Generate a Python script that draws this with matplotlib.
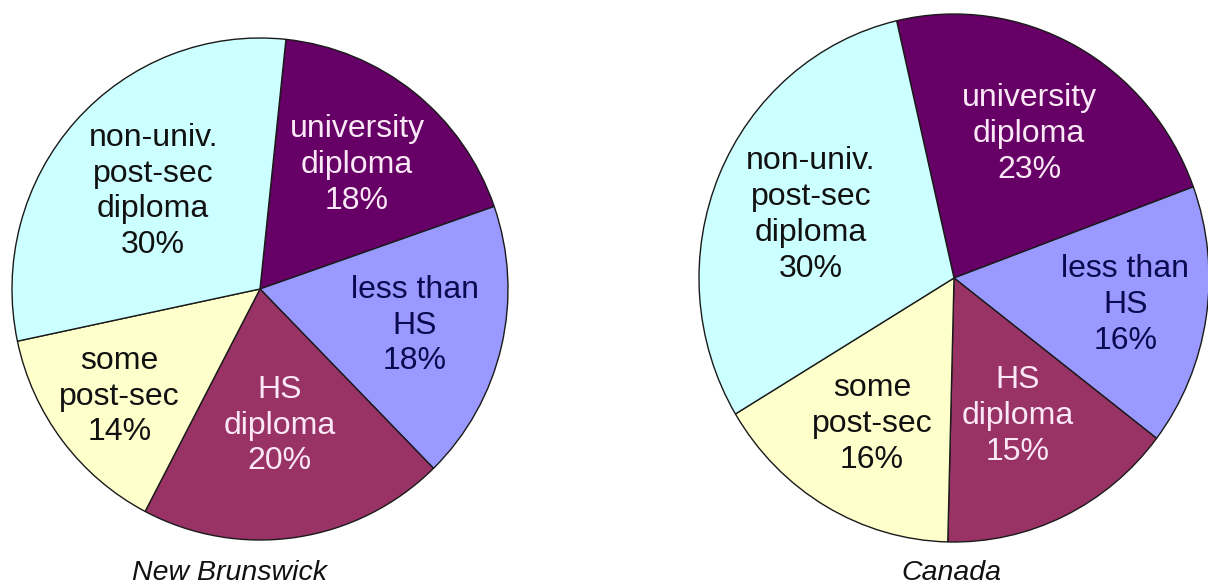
import matplotlib.pyplot as plt
import numpy as np

plt.rcParams['font.family'] = ['Liberation Sans', 'DejaVu Sans']

# Données
categories = ['university\ndiploma', 'less than\nHS', 'HS\ndiploma',
              'some\npost-sec', 'non-univ.\npost-sec\ndiploma']
nb_values = [18, 18, 20, 14, 30]
canada_values = [23, 16, 15, 16, 30]
titles = ['New Brunswick', 'Canada']

colors = ['#660066', '#9999FF', '#993366', '#FFFFCC', '#CCFFFF']
text_colors = ['#FBE8F6', '#0A0A50', '#FBE8F6', '#111111', '#111111']

fig = plt.figure(figsize=(12.08, 5.86), dpi=100)
W, H = 1208, 586


def draw_pie(box, values, start, label_r, title, title_x):
    """Dessine un camembert dans une boite en pixels (x0, y0_haut, x1, y1_bas)."""
    x0, y0, x1, y1 = box
    ax = fig.add_axes([x0 / W, 1 - y1 / H, (x1 - x0) / W, (y1 - y0) / H])
    wedges, _ = ax.pie(values, colors=colors, startangle=start, counterclock=False,
                       wedgeprops=dict(edgecolor='#1a1a1a', linewidth=1.0, clip_on=False))
    ax.set_aspect('auto')
    ax.set_xlim(-1, 1)
    ax.set_ylim(-1, 1)

    # Etiquettes dans les secteurs
    for w, cat, v, r, tc in zip(wedges, categories, values, label_r, text_colors):
        mid = np.deg2rad((w.theta1 + w.theta2) / 2)
        ax.text(r * np.cos(mid), r * np.sin(mid), f'{cat}\n{v}%',
                ha='center', va='center', fontsize=23, color=tc, linespacing=1.25)

    fig.text(title_x / W, 1 - 573 / H, title, ha='center', va='center',
             fontsize=20.5, style='italic', color='#111111')


draw_pie((12, 38, 508, 540), nb_values, 84, [0.63, 0.64, 0.55, 0.71, 0.58],
         titles[0], 230)
draw_pie((699, 14, 1209, 542), canada_values, 103, [0.62, 0.68, 0.58, 0.64, 0.61],
         titles[1], 951)

plt.savefig('out.png', dpi=100)
plt.close()
